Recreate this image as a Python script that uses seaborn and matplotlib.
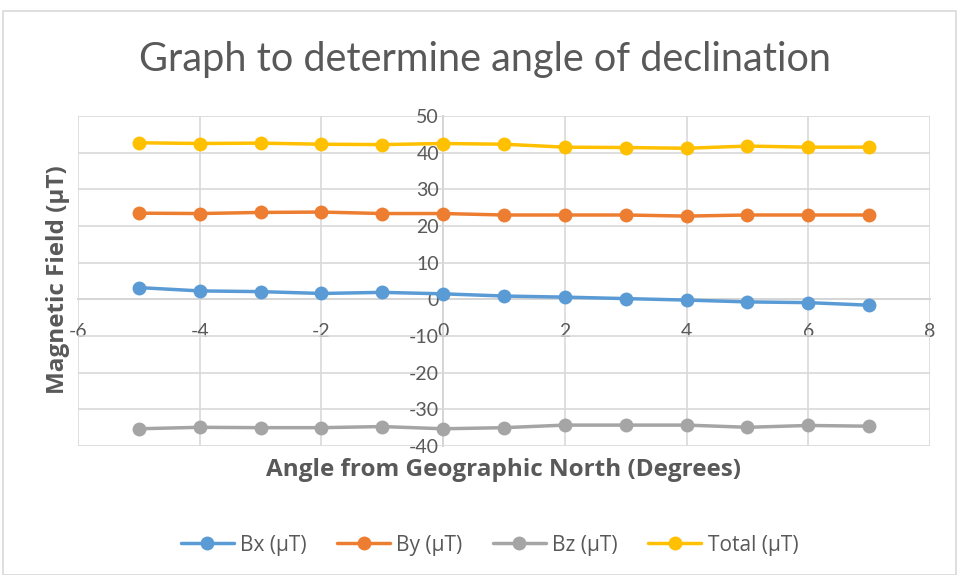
import matplotlib
matplotlib.use("Agg")
import matplotlib.pyplot as plt
import seaborn as sns
import pandas as pd
from matplotlib.patches import Rectangle

# Data
angles = [-5, -4, -3, -2, -1, 0, 1, 2, 3, 4, 5, 6, 7]
bx = [3.2, 2.3, 2.1, 1.6, 1.9, 1.5, 0.9, 0.6, 0.2, -0.2, -0.7, -0.9, -1.6]
by = [23.5, 23.4, 23.7, 23.8, 23.4, 23.4, 23.0, 23.0, 23.0, 22.7, 23.0, 23.0, 23.0]
bz = [-35.3, -34.9, -35.0, -35.0, -34.7, -35.3, -35.0, -34.3, -34.3, -34.3, -34.9, -34.4, -34.6]
total = [42.7, 42.5, 42.6, 42.3, 42.2, 42.5, 42.3, 41.5, 41.4, 41.2, 41.8, 41.5, 41.5]
series_names = ["Bx (µT)", "By (µT)", "Bz (µT)", "Total (µT)"]
colors = ["#5B9BD5", "#ED7D31", "#A5A5A5", "#FFC000"]
xticks = [-6, -4, -2, 0, 2, 4, 6, 8]
yticks = [-40, -30, -20, -10, 0, 10, 20, 30, 40, 50]

sns.set_theme(style="white")
plt.rcParams["font.family"] = ["Lato", "DejaVu Sans"]
plt.rcParams["axes.unicode_minus"] = False

df = pd.DataFrame({
    "angle": angles * 4,
    "value": bx + by + bz + total,
    "series": sum([[n] * len(angles) for n in series_names], []),
})

fig = plt.figure(figsize=(9.57, 5.75), dpi=100)
fig.patches.append(Rectangle((3 / 957, 0.5 / 575), 953 / 957, 564 / 575,
                             transform=fig.transFigure, fill=False,
                             edgecolor="#D9D9D9", linewidth=1.2))
ax = fig.add_axes([78 / 957, 1 - 446 / 575, 852 / 957, 330 / 575])

sns.lineplot(data=df, x="angle", y="value", hue="series", hue_order=series_names,
             palette=colors, marker="o", markersize=10, markeredgewidth=0,
             linewidth=2.5, ax=ax, legend=False)

ax.set_xlim(-6, 8)
ax.set_ylim(-40, 50)
ax.set_xticks(xticks)
ax.set_yticks(yticks)
ax.grid(True, color="#D9D9D9", linewidth=1.2)
ax.set_axisbelow(True)
for gl in ax.get_xgridlines() + ax.get_ygridlines():
    gl.set_clip_on(False)

for s in ["top", "right"]:
    ax.spines[s].set_visible(False)
ax.spines["left"].set_position(("data", 0))
ax.spines["bottom"].set_position(("data", 0))
for s in ["left", "bottom"]:
    ax.spines[s].set_color("#BFBFBF")
    ax.spines[s].set_linewidth(1.2)
    ax.spines[s].set_zorder(0.5)

ax.tick_params(axis="both", length=0, labelsize=14, labelcolor="#595959")
ax.tick_params(axis="y", pad=3)
ax.tick_params(axis="x", pad=17)

label_font = dict(fontsize=17.5, fontweight="bold", color="#595959",
                  family=["Open Sans", "DejaVu Sans"])
ax.set_xlabel("Angle from Geographic North (Degrees)", **label_font)
ax.set_ylabel("Magnetic Field (µT)", **label_font)
ax.xaxis.label.set_va("center")
ax.yaxis.label.set_va("center")
ax.xaxis.set_label_coords(0.5, -24 / 330)
ax.yaxis.set_label_coords((58 - 78) / 852, (446 - 280) / 330)

fig.text(485 / 957, 1 - 60 / 575, "Graph to determine angle of declination",
         ha="center", va="center", fontsize=28.5, color="#595959")

handles = [plt.Line2D([], [], color=c, marker="o", markersize=10,
                      markeredgewidth=0, linewidth=2.5) for c in colors]
fig.legend(handles, series_names, loc="center", bbox_to_anchor=(489.5 / 957, 1 - 545 / 575),
           ncol=4, frameon=False, labelcolor="#595959",
           prop={"family": ["Open Sans", "DejaVu Sans"], "size": 15},
           handlelength=2.55, columnspacing=1.45, handletextpad=0.3)

fig.savefig("out.png", dpi=100)
